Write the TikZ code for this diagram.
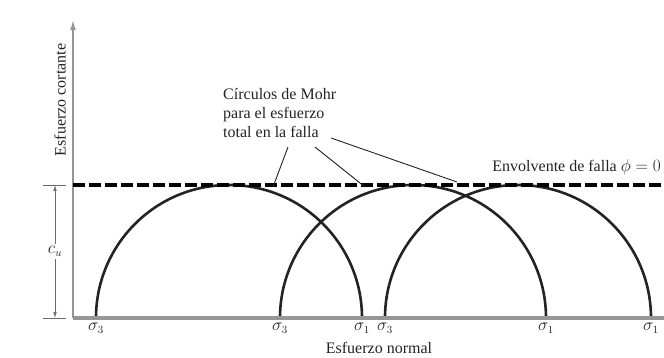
\documentclass[tikz,border=0pt]{standalone}
\usepackage{fontspec}
\setmainfont{Liberation Serif}
\usetikzlibrary{arrows.meta}
\definecolor{axisgray}{RGB}{150,150,150}
\definecolor{ink}{RGB}{35,35,35}
\tikzset{
  lbl/.style={text=ink,font=\fontsize{16}{19}\selectfont,inner sep=1pt},
  mohrarc/.style={ink,line width=2.6pt},
  leader/.style={ink,line width=0.9pt}
}

\begin{document}
\begin{tikzpicture}[x=1pt,y=1pt]
  \def\R{133}
  \def\yb{40}
  \useasboundingbox (0,0) rectangle (664,358);
  % axes
  \coordinate (origin) at (73,\yb);
  \coordinate (ytop) at (73,338);
  \coordinate (xend) at (664,\yb);
  \draw[-{Latex[length=10pt,width=6pt]},axisgray,line width=1.5pt] (origin) -- (ytop);
  \node[lbl,rotate=90] (ylab) at (60,258) {Esfuerzo cortante};
  \node[lbl] (xlab) at (379,10) {Esfuerzo normal};
  % Mohr circles
  \foreach \c/\n in {229/a,413/b,518/c}{
     \draw[mohrarc] ({\c-\R},\yb) arc (180:0:\R);
     \node[lbl,anchor=north] (sthree\n) at ({\c-\R},{\yb-4}) {$\sigma_3$};
     \node[lbl,anchor=north] (sone\n) at ({\c+\R},{\yb-4}) {$\sigma_1$};
  }
  \draw[axisgray,line width=4pt] (origin) -- (xend);
  % failure envelope
  \coordinate (envleft) at (73,{\yb+\R});
  \coordinate (envright) at (664,{\yb+\R});
  \draw[black,line width=3.5pt,dash pattern=on 12pt off 4pt] (envleft) -- (envright);
  \node[lbl,anchor=east] (envlab) at (662,191) {Envolvente de falla $\phi = 0$};
  % c_u dimension
  \coordinate (cutop) at (55,{\yb+\R});
  \coordinate (cubot) at (55,\yb);
  \draw[axisgray!70!black,line width=0.6pt] (43,{\yb+\R}) -- (66,{\yb+\R});
  \draw[axisgray!70!black,line width=0.6pt] (43,\yb) -- (66,\yb);
  \draw[{Latex[length=6pt,width=3.5pt]}-{Latex[length=6pt,width=3.5pt]},axisgray!70!black,line width=0.6pt]
     (cutop) -- node[lbl,fill=white,inner sep=2pt] (culab) {$c_u$} (cubot);
  % label with leaders
  \node[lbl,anchor=north west,align=left] (mohr) at (222,271)
     {C\'{\i}rculos de Mohr\\para el esfuerzo\\total en la falla};
  \coordinate (tailA) at (288,211);
  \coordinate (tailB) at (315,211);
  \coordinate (tailC) at (331,220);
  \coordinate (hitA) at (273,171);
  \coordinate (hitB) at (365,171);
  \coordinate (hitC) at (457,176);
  \draw[leader] (tailA) -- (hitA);
  \draw[leader] (tailB) -- (hitB);
  \draw[leader] (tailC) -- (hitC);
\end{tikzpicture}
\end{document}
